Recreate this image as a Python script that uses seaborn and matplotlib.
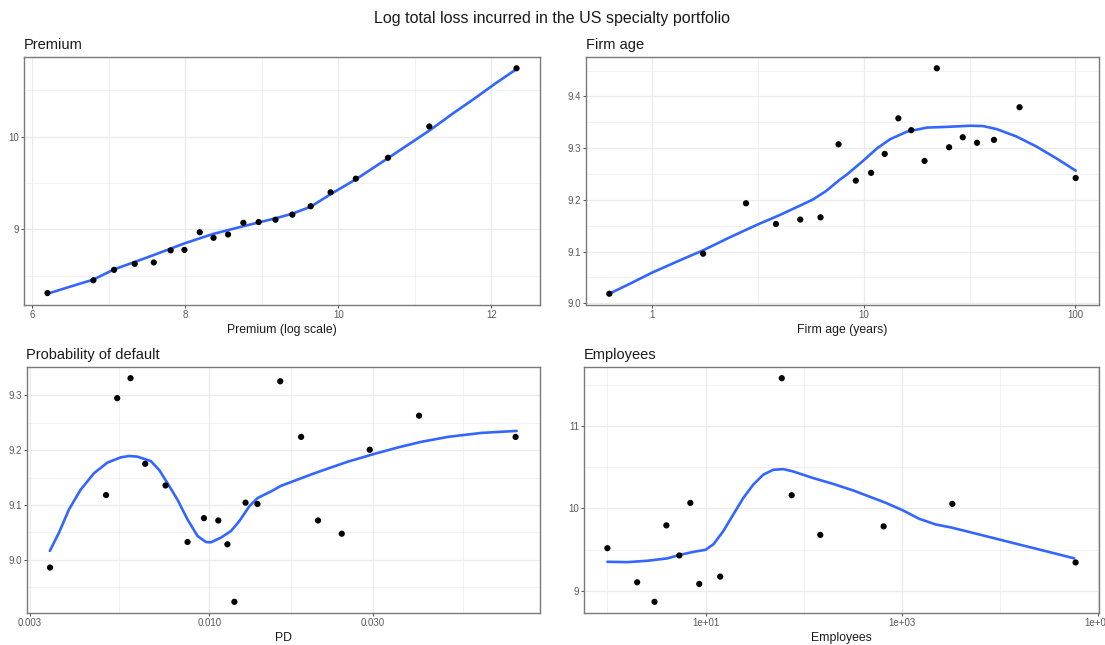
import numpy as np
import pandas as pd
import matplotlib
matplotlib.use("Agg")
import matplotlib.pyplot as plt
import seaborn as sns
from matplotlib.ticker import FixedLocator, FixedFormatter, NullFormatter

# ---------------- data ----------------
main_title = "Log total loss incurred in the US specialty portfolio"

# Premium panel
premium_x = [6.20, 6.80, 7.07, 7.34, 7.59, 7.81, 7.99, 8.19, 8.37, 8.56,
             8.76, 8.96, 9.18, 9.40, 9.64, 9.90, 10.23, 10.65, 11.19, 12.33]
premium_y = [8.315, 8.453, 8.565, 8.63, 8.645, 8.775, 8.78, 8.97, 8.91, 8.946,
             9.072, 9.08, 9.105, 9.16, 9.25, 9.40, 9.547, 9.772, 10.109, 10.736]
premium_fit_x = [6.20, 6.50, 6.80, 7.07, 7.34, 7.59, 7.99, 8.37, 8.76, 9.18, 9.40,
                 9.64, 9.90, 10.23, 10.65, 11.19, 11.50, 11.78, 12.05, 12.33]
premium_fit_y = [8.308, 8.385, 8.46, 8.57, 8.65, 8.725, 8.85, 8.953, 9.035, 9.12, 9.17,
                 9.245, 9.38, 9.54, 9.768, 10.065, 10.25, 10.41, 10.57, 10.728]
premium_xticks = [6, 8, 10, 12]
premium_xticklabels = ["6", "8", "10", "12"]
premium_xminor = [7, 9, 11]
premium_yticks = [9, 10]
premium_yticklabels = ["9", "10"]
premium_yminor = [8.5, 9.5, 10.5]

# Firm age panel
age_x = [0.627, 1.740, 2.776, 3.845, 5.009, 6.247, 7.60, 9.17, 10.83, 12.56,
         14.57, 16.77, 19.38, 22.15, 25.32, 29.37, 34.3, 41.25, 54.5, 100.4]
age_y = [9.0186, 9.096, 9.1935, 9.1534, 9.162, 9.1663, 9.3075, 9.2373, 9.2523, 9.2889,
         9.3577, 9.3348, 9.2753, 9.4545, 9.3018, 9.3211, 9.3104, 9.3161, 9.3792, 9.2423]
age_fit_x = [0.627, 0.785, 1.0, 1.351, 1.740, 2.325, 3.162, 4.0, 4.971, 5.745,
             6.64, 7.68, 8.35, 10.0, 11.55, 13.36, 16.0, 19.87, 24.7, 31.8,
             36.7, 42.5, 52.7, 65.5, 81.4, 100.4]
age_fit_y = [9.0186, 9.038, 9.0595, 9.0832, 9.1025, 9.1276, 9.1527, 9.1706, 9.1885, 9.2007,
             9.2172, 9.2387, 9.2495, 9.2767, 9.2996, 9.3176, 9.3319, 9.3398, 9.3412, 9.3434,
             9.3427, 9.3369, 9.3226, 9.3032, 9.2803, 9.2566]
age_xticks = [1, 10, 100]
age_xticklabels = ["1", "10", "100"]
age_xminor = [0.316, 3.162, 31.62]
age_yticks = [9.0, 9.1, 9.2, 9.3, 9.4]
age_yticklabels = ["9.0", "9.1", "9.2", "9.3", "9.4"]
age_yminor = [8.95, 9.05, 9.15, 9.25, 9.35, 9.45]

# Probability of default panel
pd_x = [0.003437, 0.005004, 0.005394, 0.005898, 0.006510, 0.007459, 0.008647, 0.009654,
        0.010629, 0.011298, 0.011842, 0.012764, 0.013825, 0.01611, 0.018533, 0.020752,
        0.02434, 0.02937, 0.04089, 0.07816]
pd_y = [8.986, 9.118, 9.2946, 9.331, 9.175, 9.1355, 9.0325, 9.076,
        9.0717, 9.0283, 8.9235, 9.1042, 9.1018, 9.3253, 9.224, 9.0717,
        9.0476, 9.2006, 9.2627, 9.224]
pd_fit_x = [0.003432, 0.003646, 0.003901, 0.004219, 0.004616, 0.005047, 0.005522, 0.005840,
            0.006176, 0.006755, 0.007146, 0.007556, 0.008083, 0.008647, 0.009249, 0.009781,
            0.010116, 0.010820, 0.011572, 0.012240, 0.013092, 0.013845, 0.015147, 0.016199,
            0.020270, 0.025360, 0.030211, 0.035503, 0.041548, 0.049705, 0.062198, 0.078725]
pd_fit_y = [9.0163, 9.049, 9.0916, 9.1277, 9.1578, 9.1771, 9.1867, 9.1892,
            9.188, 9.18, 9.1639, 9.1398, 9.1096, 9.0735, 9.0434, 9.0325,
            9.0319, 9.0404, 9.0524, 9.0705, 9.0976, 9.1127, 9.1247, 9.1349,
            9.1578, 9.1789, 9.1928, 9.2048, 9.2151, 9.2241, 9.2313, 9.2349]
pd_xticks = [0.003, 0.010, 0.030]
pd_xticklabels = ["0.003", "0.010", "0.030"]
pd_xminor = [0.005477, 0.017321, 0.054772]
pd_yticks = [9.0, 9.1, 9.2, 9.3]
pd_yticklabels = ["9.0", "9.1", "9.2", "9.3"]
pd_yminor = [8.95, 9.05, 9.15, 9.25]

# Employees panel
emp_x = [1.0, 2.01, 3.02, 3.99, 5.41, 7.0, 8.63, 14.1, 59.8, 75.5,
         147.6, 653, 3273, 59000]
emp_y = [9.518, 9.104, 8.867, 9.795, 9.430, 10.068, 9.084, 9.173, 11.582, 10.161,
         9.679, 9.783, 10.056, 9.345]
emp_fit_x = [1.0, 1.60, 2.54, 4.06, 5.53, 7.55, 10.0, 12.05, 15.2, 19.2,
             24.3, 30.6, 38.7, 48.9, 61.8, 78.0, 124.5, 198, 318, 689,
             1016, 1496, 2203, 3251, 7050, 15300, 33200, 57000]
emp_fit_y = [9.353, 9.349, 9.365, 9.394, 9.438, 9.474, 9.498, 9.566, 9.727, 9.928,
             10.129, 10.289, 10.410, 10.470, 10.478, 10.450, 10.37, 10.30, 10.22, 10.068,
             9.980, 9.876, 9.807, 9.767, 9.667, 9.566, 9.466, 9.395]
emp_xticks = [10, 1000, 100000]
emp_xticklabels = ["1e+01", "1e+03", "1e+05"]
emp_xminor = [1, 100, 10000]
emp_yticks = [9, 10, 11]
emp_yticklabels = ["9", "10", "11"]
emp_yminor = [9.5, 10.5, 11.5]

# ---------------- style ----------------
sns.set_theme(style="white")
plt.rcParams['font.family'] = ['Liberation Sans', 'DejaVu Sans']

W, H = 1105, 645
fig = plt.figure(figsize=(W / 100, H / 100), dpi=100)

LINE_BLUE = "#3366FF"
GRID = "#EBEBEB"


def rect(l, t, r, b):
    return [l / W, 1 - b / H, (r - l) / W, (b - t) / H]


def panel(box, x, y, fx, fy, title, xlabel, logx,
          xt, xtl, xmin, yt, ytl, ymin):
    ax = fig.add_axes(rect(*box))
    if logx:
        ax.set_xscale("log")
    df = pd.DataFrame({"x": x, "y": y})
    fdf = pd.DataFrame({"x": fx, "y": fy})
    sns.lineplot(data=fdf, x="x", y="y", ax=ax, color=LINE_BLUE, linewidth=1.9,
                 sort=False, estimator=None, zorder=2)
    sns.scatterplot(data=df, x="x", y="y", ax=ax, color="black", s=20,
                    edgecolor="none", zorder=3)
    ax.xaxis.set_major_locator(FixedLocator(xt))
    ax.xaxis.set_major_formatter(FixedFormatter(xtl))
    ax.xaxis.set_minor_locator(FixedLocator(xmin))
    ax.xaxis.set_minor_formatter(NullFormatter())
    ax.yaxis.set_major_locator(FixedLocator(yt))
    ax.yaxis.set_major_formatter(FixedFormatter(ytl))
    ax.yaxis.set_minor_locator(FixedLocator(ymin))
    ax.yaxis.set_minor_formatter(NullFormatter())
    ax.margins(x=0.05, y=0.05)
    ax.set_axisbelow(True)
    ax.grid(True, which="major", color=GRID, linewidth=0.9)
    ax.grid(True, which="minor", color=GRID, linewidth=0.5)
    ax.tick_params(which="major", length=2, width=0.6, color="#333333",
                   labelsize=7, labelcolor="#595959", pad=1.5,
                   bottom=True, left=True)
    ax.tick_params(which="minor", length=0)
    for s in ax.spines.values():
        s.set_color("#7A7A7A")
        s.set_linewidth(1.0)
    ax.set_xlabel(xlabel, fontsize=8.8, color="#1A1A1A", labelpad=3)
    ax.set_ylabel("")
    ax.set_title(title, loc="left", fontsize=10.5, color="#1A1A1A", pad=6)
    return ax


panel((24, 57, 540, 305), premium_x, premium_y, premium_fit_x, premium_fit_y,
      "Premium", "Premium (log scale)", False,
      premium_xticks, premium_xticklabels, premium_xminor,
      premium_yticks, premium_yticklabels, premium_yminor)

panel((586, 57, 1099, 305), age_x, age_y, age_fit_x, age_fit_y,
      "Firm age", "Firm age (years)", True,
      age_xticks, age_xticklabels, age_xminor,
      age_yticks, age_yticklabels, age_yminor)

panel((26.5, 367, 540, 613), pd_x, pd_y, pd_fit_x, pd_fit_y,
      "Probability of default", "PD", True,
      pd_xticks, pd_xticklabels, pd_xminor,
      pd_yticks, pd_yticklabels, pd_yminor)

panel((584, 367, 1099, 613), emp_x, emp_y, emp_fit_x, emp_fit_y,
      "Employees", "Employees", True,
      emp_xticks, emp_xticklabels, emp_xminor,
      emp_yticks, emp_yticklabels, emp_yminor)

fig.text(0.5, 1 - 19 / H, main_title, ha="center", va="center",
         fontsize=11.5, color="#1A1A1A")

fig.savefig("out.png", dpi=100)
